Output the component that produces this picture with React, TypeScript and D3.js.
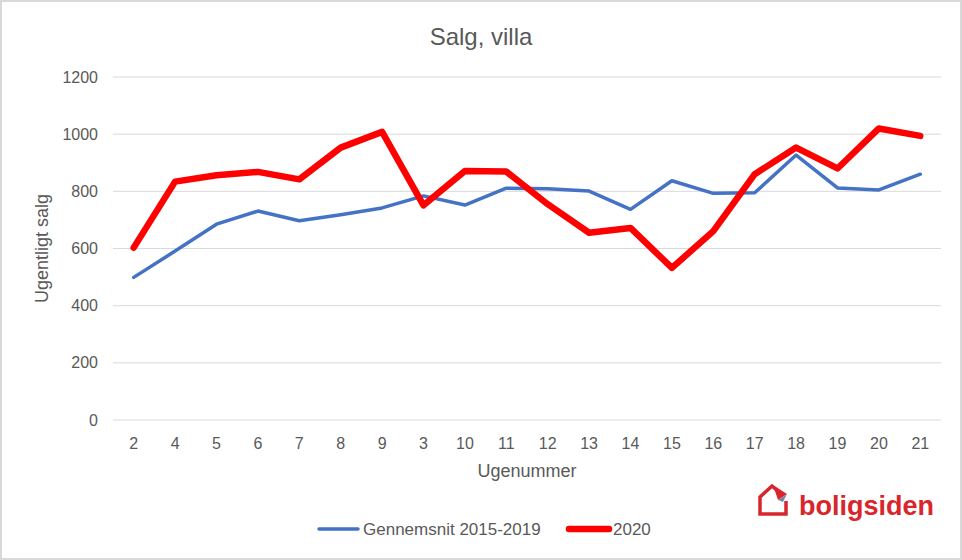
import React from "react";
import * as d3 from "d3";

// week numbers as shown on the x axis (order as in source)
const weeks = ["2", "4", "5", "6", "7", "8", "9", "3", "10", "11", "12", "13", "14", "15", "16", "17", "18", "19", "20", "21"];
const avg1519 = [499, 591, 685, 731, 697, 718, 742, 784, 752, 811, 809, 801, 737, 837, 793, 795, 927, 812, 805, 860];
const sales2020 = [603, 834, 856, 868, 842, 953, 1008, 751, 871, 869, 755, 655, 672, 532, 661, 860, 953, 880, 1020, 994];
const yTicks = [0, 200, 400, 600, 800, 1000, 1200];

const W = 962;
const H = 560;
const FONT = "'Liberation Sans', Arial, sans-serif";
const TEXT = "#595959";
const GRID = "#d9d9d9";
const BLUE = "#4472C4";
const RED = "#FF0000";
const LOGO = "#D9262C";

export default function App() {
  const x = d3.scalePoint<string>().domain(weeks).range([113, 941]).padding(0.5);
  const y = d3.scaleLinear().domain([0, 1200]).range([420, 77]);

  const line = d3
    .line<number>()
    .x((_, i) => x(weeks[i]) as number)
    .y((d) => y(d));

  return (
    <div style={{ position: "absolute", left: 0, top: 0 }}>
      <svg width={W} height={H} style={{ display: "block", background: "#fff" }} fontFamily={FONT}>
        <rect x={1} y={1} width={W - 2} height={H - 2} fill="#fff" stroke={GRID} strokeWidth={2} />

        <text x={481} y={45} textAnchor="middle" fontSize={24} fill={TEXT}>
          Salg, villa
        </text>

        {/* gridlines + y labels */}
        {yTicks.map((t) => (
          <g key={t}>
            <line x1={113} x2={941} y1={y(t)} y2={y(t)} stroke={GRID} strokeWidth={1} />
            <text x={98} y={y(t)} dy="0.35em" textAnchor="end" fontSize={16} fill={TEXT}>
              {t}
            </text>
          </g>
        ))}

        {/* x labels */}
        {weeks.map((w) => (
          <text key={w} x={x(w)} y={449} textAnchor="middle" fontSize={16} fill={TEXT}>
            {w}
          </text>
        ))}

        <text x={527} y={477} textAnchor="middle" fontSize={18} fill={TEXT}>
          Ugenummer
        </text>
        <text
          transform={`translate(48,${(y(0) + y(1200)) / 2}) rotate(-90)`}
          textAnchor="middle"
          fontSize={18}
          fill={TEXT}
        >
          Ugentligt salg
        </text>

        <path d={line(avg1519) ?? ""} fill="none" stroke={BLUE} strokeWidth={3.5} strokeLinejoin="round" strokeLinecap="round" />
        <path d={line(sales2020) ?? ""} fill="none" stroke={RED} strokeWidth={6.5} strokeLinejoin="round" strokeLinecap="round" />

        {/* legend */}
        <line x1={319} x2={358} y1={529} y2={529} stroke={BLUE} strokeWidth={3.5} strokeLinecap="round" />
        <text x={363} y={529} dy="0.35em" fontSize={17} fill={TEXT}>
          Gennemsnit 2015-2019
        </text>
        <line x1={569} x2={609} y1={529} y2={529} stroke={RED} strokeWidth={6.5} strokeLinecap="round" />
        <text x={613} y={529} dy="0.35em" fontSize={17} fill={TEXT}>
          2020
        </text>

        {/* boligsiden logo */}
        <g>
          <path d="M780,493 L772,486 L760,497 V514 H786 V501" fill="none" stroke={LOGO} strokeWidth={3.5} strokeLinejoin="miter" />
          <path d="M773,485 L787,494 L778,500 Z" fill={LOGO} />
          <path d="M778,500 L787,494 L783,502 Z" fill="#7a86a8" />
          <text x={799} y={515} fontSize={27} fontWeight="bold" fill={LOGO}>
            boligsiden
          </text>
        </g>
      </svg>
    </div>
  );
}
